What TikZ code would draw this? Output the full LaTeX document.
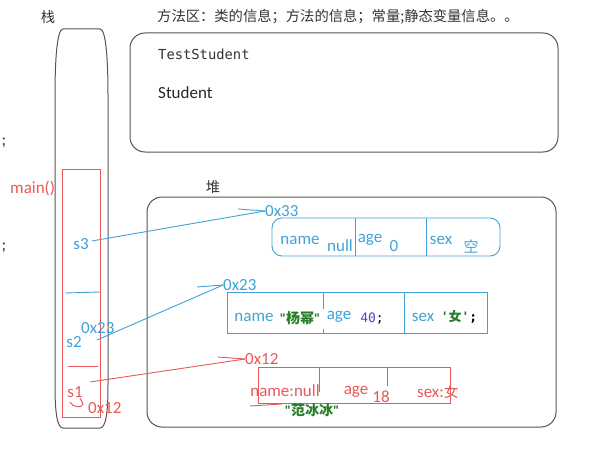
\documentclass[tikz,border=0pt]{standalone}
\usepackage{fontspec}
\setmainfont{Carlito}
\setmonofont{DejaVu Sans Mono}
\newfontfamily\cjk{Noto Sans CJK SC}
\definecolor{ptrblue}{RGB}{64,162,214}
\definecolor{ptrred}{RGB}{232,88,88}
\definecolor{strgreen}{RGB}{40,125,40}
\definecolor{numpurple}{RGB}{90,60,200}
\definecolor{framegray}{RGB}{85,85,85}
\tikzset{
  area/.style     = {draw=framegray, line width=1pt, rounded corners=15pt},
  lbl/.style      = {inner sep=0pt, font=\fontsize{17}{19}\selectfont},
  bluelbl/.style  = {lbl, text=ptrblue},
  redlbl/.style   = {lbl, text=ptrred},
  title/.style    = {inner sep=0pt, text=black!80, font=\cjk\fontsize{14.3}{16}\selectfont},
  blueline/.style = {draw=ptrblue, line width=0.9pt},
  redline/.style  = {draw=ptrred, line width=0.9pt}
}
\begin{document}
\begin{tikzpicture}[x=1pt,y=-1pt]
  \useasboundingbox (0,0) rectangle (592,452);
  % titles
  \node[title] (stacktitle) at (48,17) {栈};
  \node[title, anchor=west] (methodtitle) at (157,17) {方法区：类的信息；方法的信息；常量;静态变量信息。。};
  \node[title] (heaptitle) at (213,187) {堆};
  \node[lbl, text=black!80] (semi1) at (4,143) {;};
  \node[lbl, text=black!80] (semi2) at (4,248) {;};

  % method area
  \draw[area] (130,33) rectangle (558,152);
  \node[inner sep=0pt, anchor=west, text=black!80, font=\ttfamily\fontsize{13.8}{15}\selectfont] (testcls) at (158,54) {TestStudent};
  \node[lbl, anchor=west, text=black!85] (stucls) at (158,93) {Student};

  % stack
  \draw[draw=framegray, line width=1pt]
    (63,29) -- (100,29) .. controls (106,29) and (108,60) .. (108,95)
    -- (108,385) .. controls (108,412) and (106,428) .. (100,428)
    -- (63,428) .. controls (57,428) and (55,412) .. (55,385)
    -- (55,95) .. controls (55,60) and (57,29) .. (63,29) -- cycle;
  \draw[redline] (62,169) rectangle (100,417);
  \node[redlbl, anchor=west] (mainfr) at (10,188) {main()};
  \node[bluelbl] (s3) at (81,244) {s3};
  \draw[blueline] (65,293) -- (100,292);
  \node[bluelbl, anchor=west] (s2val) at (81,328) {0x23};
  \node[bluelbl] (s2) at (74,342) {s2};
  \draw[redline] (68,366) -- (98,366);
  \node[redlbl] (s1) at (75,392) {s1};
  \draw[redline] (70,402) .. controls (72,407) and (82,409) .. (83,404) -- (80,398);
  \node[redlbl, anchor=west] (s1val) at (88,408) {0x12};

  % heap
  \draw[area] (147,197) rectangle (556,427);

  % object s3
  \node[bluelbl, anchor=west] (addr33) at (265,211) {0x33};
  \coordinate (tick33) at (238,209);
  \draw[blueline] (s3.east) ++(3,-3) -- (addr33.west);
  \draw[blueline] (tick33) -- (addr33.west);
  \draw[blueline, rounded corners=10pt] (272,218) rectangle (500,256);
  \draw[blueline] (355,218) -- (355,256) (426,218) -- (426,256);
  \node[bluelbl] (name3) at (300,240) {name};
  \node[bluelbl] (nameval3) at (340,246) {null};
  \node[bluelbl] (age3) at (370,240) {age};
  \node[bluelbl] (ageval3) at (394,246) {0};
  \node[bluelbl] (sex3) at (441,240) {sex};
  \node[bluelbl, font=\cjk\fontsize{15}{17}\selectfont] (sexval3) at (471,246) {空};

  % object s2
  \node[bluelbl, anchor=west] (addr23) at (223,285) {0x23};
  \coordinate (tick23) at (197,287);
  \draw[blueline] (97,340) -- (addr23.west);
  \draw[blueline] (tick23) -- (addr23.west);
  \draw[blueline] (227,292) rectangle (487,333);
  \draw[blueline] (323,292) -- (323,309) (323,329) -- (323,333) (404,292) -- (404,333);
  \node[bluelbl] (name2) at (254,317) {name};
  \node[inner sep=0pt, text=strgreen, font=\bfseries\fontsize{14}{16}\selectfont] (nameval2) at (300,318) {\textquotedbl{\cjk 杨幂}\textquotedbl};
  \node[bluelbl] (age2) at (339,317) {age};
  \node[inner sep=0pt, text=numpurple, font=\ttfamily\fontsize{13}{15}\selectfont] (ageval2) at (372,319) {40\textcolor{black}{;}};
  \node[bluelbl] (sex2) at (423,317) {sex};
  \node[inner sep=0pt, text=strgreen, font=\ttfamily\bfseries\fontsize{13}{15}\selectfont] (sexval2) at (459,317) {'{\cjk 女}'\textcolor{black}{;}};

  % object s1
  \node[redlbl, anchor=west] (addr12) at (245,359) {0x12};
  \coordinate (tick12) at (218,357);
  \draw[redline] (90,382) -- (addr12.west);
  \draw[redline] (tick12) -- (addr12.west);
  \draw[redline] (258,367) rectangle (450,403);
  \draw[redline] (319,367) -- (319,392) (387,367) -- (387,386);
  \node[redlbl] (name1) at (285,391) {name:null};
  \node[redlbl] (age1) at (356,392) {age};
  \node[redlbl] (ageval1) at (381,397) {18};
  \node[redlbl] (sex1) at (438,392) {sex:{\cjk\fontsize{15}{17}\selectfont 女}};
  \draw[redline] (250,406) -- (282,404);
  \node[inner sep=0pt, text=strgreen, font=\bfseries\fontsize{14}{16}\selectfont] (nameval1) at (312,410) {\textquotedbl{\cjk 范冰冰}\textquotedbl};
\end{tikzpicture}
\end{document}
